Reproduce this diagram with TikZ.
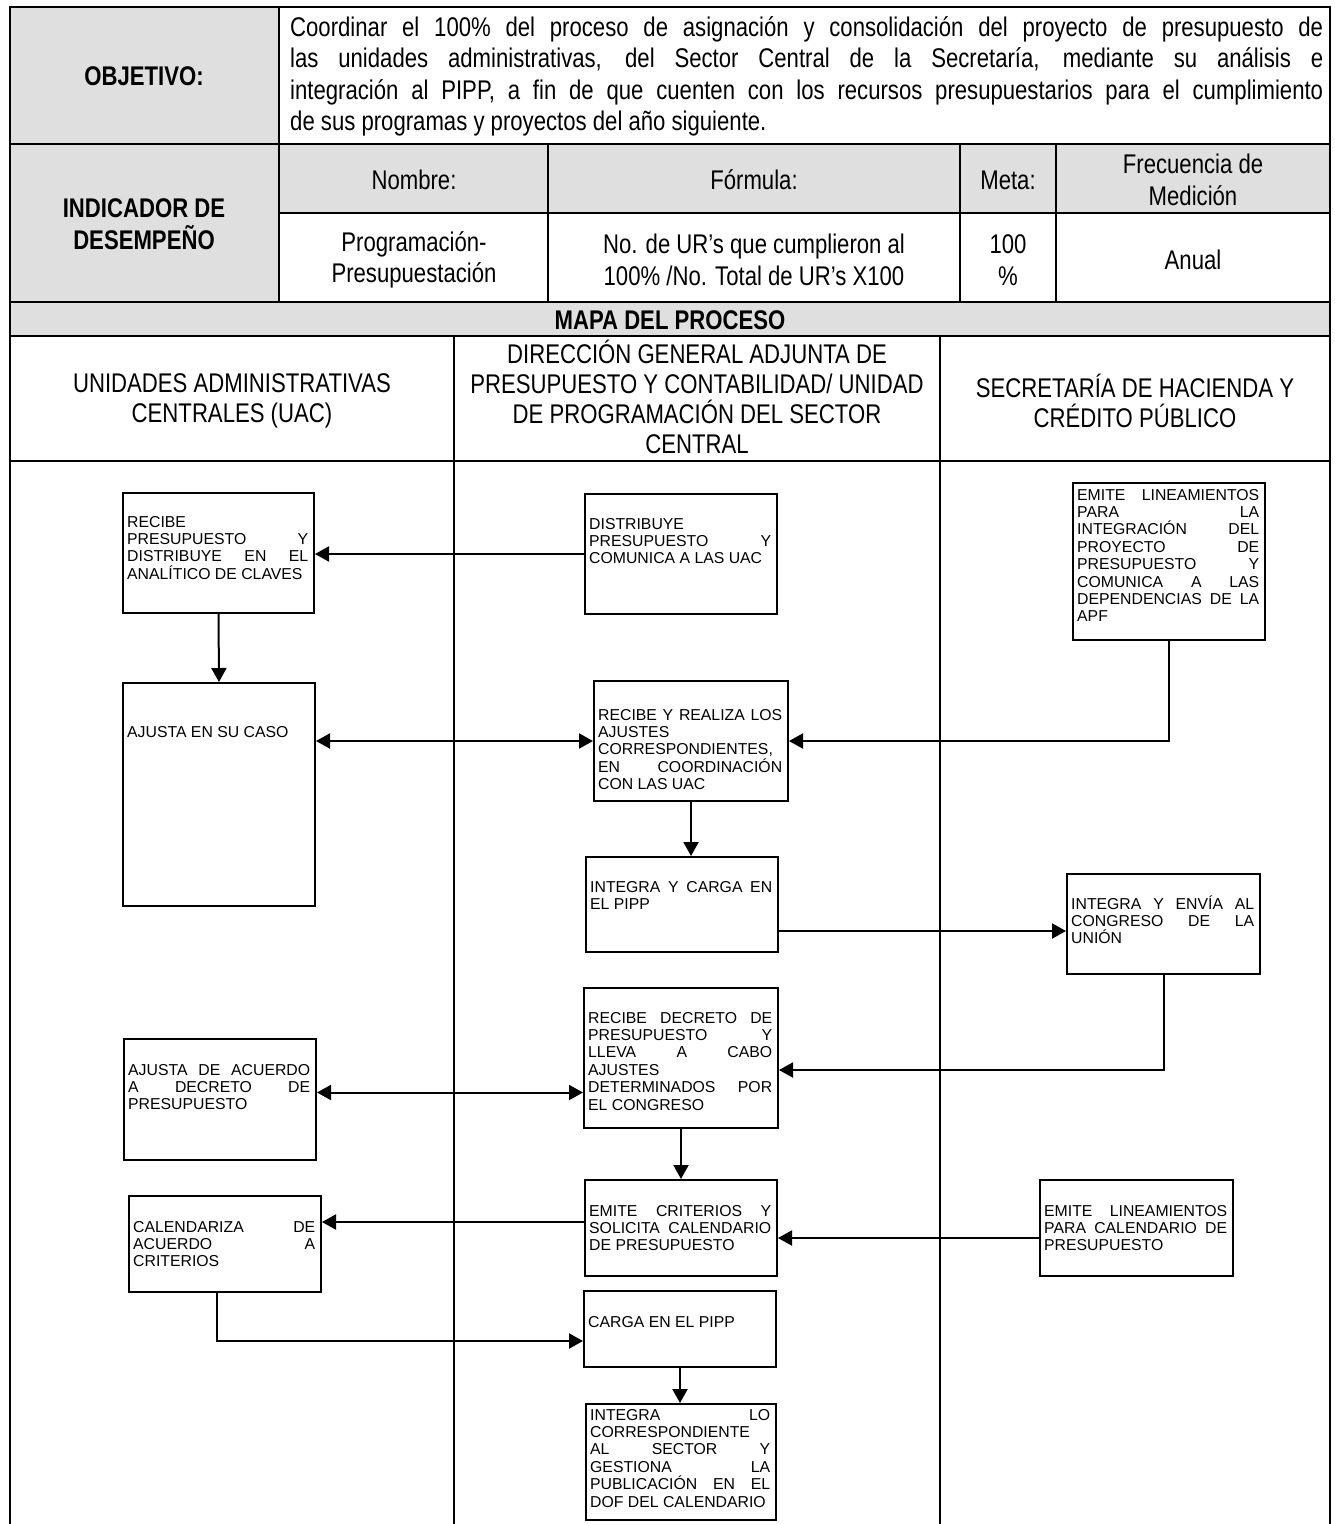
\documentclass[tikz,border=0pt]{standalone}
\usepackage{fontspec}
\setmainfont{Liberation Sans}
\newfontfamily\narrowfont[FakeStretch=0.82]{Liberation Sans}
\usetikzlibrary{arrows.meta}
\definecolor{cellgray}{RGB}{223,223,223}

\tikzset{
  rule/.style={line width=2.6pt},
  lanerule/.style={line width=1.6pt},
  tabtext/.style={font=\narrowfont\fontsize{27}{31.5}\selectfont, align=center, inner sep=0pt},
  lanetext/.style={font=\narrowfont\fontsize{27}{30.2}\selectfont, align=center, inner sep=0pt},
  tabbold/.style={font=\narrowfont\bfseries\fontsize{27}{31.5}\selectfont, align=center, inner sep=0pt},
  stepbox/.style={draw, line width=2pt, inner sep=0pt, anchor=north west},
  boxtext/.style={inner sep=0pt, anchor=base west, font=\fontsize{15.8}{17.4}\selectfont},
  flow/.style={line width=2pt, -{Triangle[length=14pt,width=15pt]}},
  flowboth/.style={line width=2pt, {Triangle[length=14pt,width=15pt]}-{Triangle[length=14pt,width=15pt]}},
}

% process box: name, x1, y1, x2, y2, first baseline, text lines
\newcommand\flowbox[7]{%
  \node[stepbox, minimum width={#4-#2}, minimum height={#5-#3}] (#1) at (#2,#3) {};
  \node[boxtext] (#1-text) at (#2+5,#6)
    {\parbox[t]{\dimexpr #4pt-#2pt-10pt\relax}{\raggedright #7}};
}
\newcommand\jline[1]{\makebox[1033pt][s]{#1}}

\begin{document}
\begin{tikzpicture}[x=1pt,y=-1pt]
\useasboundingbox (0,0) rectangle (1335,1524);

% shaded cells
\fill[cellgray] (10,7) rectangle (279,302);
\fill[cellgray] (279,144) rectangle (1330,213);
\fill[cellgray] (10,302) rectangle (1330,336);

% table rules
\draw[rule] (10,1524) -- (10,7) -- (1330,7) -- (1330,1524);
\draw[rule] (10,144) -- (1330,144);
\draw[rule] (279,213) -- (1330,213);
\draw[rule] (10,302) -- (1330,302);
\draw[rule] (10,336) -- (1330,336);
\draw[rule] (10,461) -- (1330,461);
\draw[rule] (279,7) -- (279,302);
\draw[rule] (548,144) -- (548,302);
\draw[rule] (960,144) -- (960,302);
\draw[rule] (1056,144) -- (1056,302);
\draw[rule] (454,336) -- (454,461);
\draw[rule] (940,336) -- (940,461);
\draw[lanerule] (454,461) -- (454,1524);
\draw[lanerule] (940,461) -- (940,1524);

% header texts
\node[tabbold] (objlabel) at (144,76) {OBJETIVO:};
\node[inner sep=0pt, anchor=base west, font=\narrowfont\fontsize{27}{31.5}\selectfont] (objtext) at (290,36)
  {\parbox[t]{1033pt}{%
   \jline{Coordinar el 100\% del proceso de asignación y consolidación del proyecto de presupuesto de}\\
   \jline{las unidades administrativas, del Sector Central de la Secretaría, mediante su análisis e}\\
   \jline{integración al PIPP, a fin de que cuenten con los recursos presupuestarios para el cumplimiento}\\
   de sus programas y proyectos del año siguiente.}};
\node[tabbold] (indlabel) at (144,224) {INDICADOR DE\\DESEMPEÑO};
\node[tabtext] (hnombre) at (414,180) {Nombre:};
\node[tabtext] (hformula) at (754,180) {Fórmula:};
\node[tabtext] (hmeta) at (1008,180) {Meta:};
\node[tabtext] (hfrec) at (1193,180) {Frecuencia de\\Medición};
\node[tabtext] (vnombre) at (414,260) {Programación-\\Presupuestación};
\node[tabtext] (vformula) at (754,260) {No. de UR’s que cumplieron al\\100\% /No. Total de UR’s X100};
\node[tabtext] (vmeta) at (1008,260) {100\\\%};
\node[tabtext] (vfrec) at (1193,260) {Anual};
\node[tabbold] (mapa) at (670,320) {MAPA DEL PROCESO};

% lane titles
\node[lanetext] (laneuac) at (232,401) {UNIDADES ADMINISTRATIVAS\\CENTRALES (UAC)};
\node[lanetext] (lanedg) at (697,397) {DIRECCIÓN GENERAL ADJUNTA DE\\PRESUPUESTO Y CONTABILIDAD/ UNIDAD\\DE PROGRAMACIÓN DEL SECTOR\\CENTRAL};
\node[lanetext] (laneshcp) at (1135,401) {SECRETARÍA DE HACIENDA Y\\CRÉDITO PÚBLICO};

% process boxes
\flowbox{b1}{122}{492}{313}{612}{527}{RECIBE\\ PRESUPUESTO\hfill Y\\ DISTRIBUYE\hfill EN\hfill EL\\ ANALÍTICO DE CLAVES}
\flowbox{d1}{584}{493}{776}{613}{529}{DISTRIBUYE\\ PRESUPUESTO\hfill Y\\ COMUNICA A LAS UAC}
\flowbox{e1}{1072}{482}{1264}{639}{500}{EMITE\hfill LINEAMIENTOS\\ PARA\hfill LA\\ INTEGRACIÓN\hfill DEL\\ PROYECTO\hfill DE\\ PRESUPUESTO\hfill Y\\ COMUNICA\hfill A\hfill LAS\\ DEPENDENCIAS\hfill DE\hfill LA\\ APF}
\flowbox{b2}{122}{682}{314}{905}{737}{AJUSTA EN SU CASO}
\flowbox{r}{593}{680}{787}{800}{720}{RECIBE\hfill Y\hfill REALIZA\hfill LOS\\ AJUSTES\\ CORRESPONDIENTES,\\ EN\hfill COORDINACIÓN\\ CON LAS UAC}
\flowbox{ic}{585}{856}{777}{951}{892}{INTEGRA\hfill Y\hfill CARGA\hfill EN\\ EL PIPP}
\flowbox{ie}{1066}{873}{1259}{973}{909}{INTEGRA\hfill Y\hfill ENVÍA\hfill AL\\ CONGRESO\hfill DE\hfill LA\\ UNIÓN}
\flowbox{rd}{583}{987}{777}{1127}{1023}{RECIBE\hfill DECRETO\hfill DE\\ PRESUPUESTO\hfill Y\\ LLEVA\hfill A\hfill CABO\\ AJUSTES\\ DETERMINADOS\hfill POR\\ EL CONGRESO}
\flowbox{b3}{123}{1038}{315}{1159}{1075}{AJUSTA\hfill DE\hfill ACUERDO\\ A\hfill DECRETO\hfill DE\\ PRESUPUESTO}
\flowbox{ec}{584}{1179}{776}{1275}{1216}{EMITE\hfill CRITERIOS\hfill Y\\ SOLICITA\hfill CALENDARIO\\ DE PRESUPUESTO}
\flowbox{cal}{128}{1195}{320}{1291}{1232}{CALENDARIZA\hfill DE\\ ACUERDO\hfill A\\ CRITERIOS}
\flowbox{el2}{1039}{1179}{1232}{1275}{1216}{EMITE\hfill LINEAMIENTOS\\ PARA\hfill CALENDARIO\hfill DE\\ PRESUPUESTO}
\flowbox{cp}{583}{1290}{775}{1366}{1327}{CARGA EN EL PIPP}
\flowbox{int}{585}{1403}{775}{1519}{1420}{INTEGRA\hfill LO\\ CORRESPONDIENTE\\ AL\hfill SECTOR\hfill Y\\ GESTIONA\hfill LA\\ PUBLICACIÓN\hfill EN\hfill EL\\ DOF DEL CALENDARIO}

% connectors
\draw[flow] (d1.west) -- (d1.west -| b1.east);
\draw[flow] (b1.south) -- (b2.north);
\draw[flowboth] (r.west -| b2.east) -- (r.west);
\draw[flow] (e1.south) |- (r.east);
\draw[flow] (r.south) -- (r.south |- ic.north);
\draw[flow] ([yshift=-7pt]ie.west -| ic.east) -- ([yshift=-7pt]ie.west);
\draw[flow] (ie.south) |- ([yshift=-12pt]rd.east);
\draw[flowboth] ([yshift=7pt]b3.east) -- ([yshift=7pt]b3.east -| rd.west);
\draw[flow] (rd.south) -- (rd.south |- ec.north);
\draw[flow] ([yshift=6pt]ec.west) -- ([yshift=6pt]ec.west -| cal.east);
\draw[flow] ([yshift=-10pt]el2.west) -- ([yshift=-10pt]el2.west -| ec.east);
\draw[flow] ([xshift=-8pt]cal.south) |- ([yshift=-12pt]cp.west);
\draw[flow] (cp.south) -- (cp.south |- int.north);
\end{tikzpicture}
\end{document}
